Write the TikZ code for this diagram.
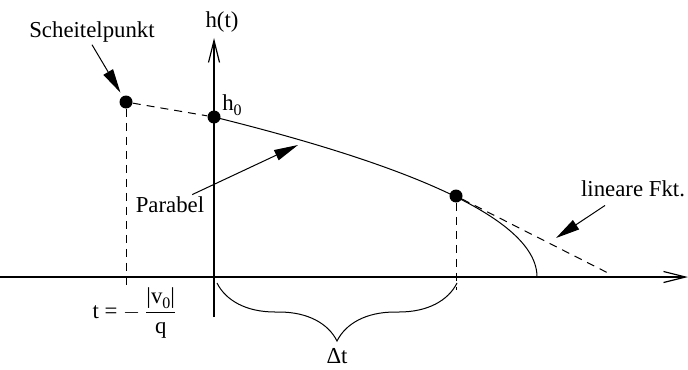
\documentclass[tikz,border=0pt]{standalone}
\usepackage{amsmath}
\usepackage{fontspec}
\setmainfont{Liberation Serif}
\usetikzlibrary{arrows.meta, decorations.pathreplacing, calc}

\begin{document}
\begin{tikzpicture}[
    x=0.5pt, y=-0.5pt,
    font=\fontsize{11.4}{13}\selectfont,
    punkt/.style={circle, fill=black, inner sep=0pt, minimum size=6.5pt},
    achse/.style={line width=0.6pt, -{Straight Barb[length=11pt,width=5.5pt]}},
    hilfslinie/.style={line width=0.5pt, dash pattern=on 4pt off 3pt},
    zeiger/.style={line width=0.5pt, -{Triangle[length=12pt,width=5.5pt]}},
    beschriftung/.style={inner sep=1pt}
]
\useasboundingbox (0,0) rectangle (688,369);

% Achsen
\coordinate (hlinks) at (0,277);
\coordinate (hrechts) at (688,277);
\coordinate (vunten) at (214,317);
\coordinate (voben) at (214,38);
\draw[achse] (hlinks) -- (hrechts);
\draw[achse] (vunten) -- (voben);
\node[beschriftung] (lblH) at (222,22) {h(t)};

% Punkte
\node[punkt] (S) at (126,102) {};
\node[punkt] (H0) at (214,117) {};
\node[punkt] (P) at (456,196) {};
\node[beschriftung] (lblH0) at (232,105) {h\raisebox{-0.45ex}{\footnotesize 0}};

% Parabel
\draw[line width=0.5pt] plot[domain=117:277, samples=80, smooth, variable=\t]
    ({537-0.01262*(277-\t)*(277-\t)}, \t);

% Hilfslinien
\coordinate (sfuss) at (126,286);
\coordinate (pfuss) at (456,290);
\coordinate (lende) at (612,275);
\draw[hilfslinie] (S) -- (H0);
\draw[hilfslinie] (S) -- (sfuss);
\draw[hilfslinie] (P) -- (pfuss);
\draw[hilfslinie] (P) -- (lende);

% Klammer
\coordinate (k1) at (217,283);
\coordinate (k2) at (457,283);
\draw[line width=0.5pt, decorate, decoration={brace, mirror, amplitude=29pt}] (k1) -- (k2);
\node[beschriftung] (dt) at (337,356) {Δt};
\node[beschriftung] (lblT) at (135,313) {t = $-$\,$\dfrac{\text{|v\raisebox{-0.45ex}{\footnotesize 0}|}}{\text{q}}$};

% Beschriftungen mit Pfeilen
\node[beschriftung] (lblS) at (92,32) {Scheitelpunkt};
\node[beschriftung] (lblP) at (170,205) {Parabel};
\node[beschriftung] (lblL) at (633,189) {lineare Fkt.};
\coordinate (pz) at (298,145);
\coordinate (lz) at (556,238);
\draw[zeiger, shorten >=2pt] (lblS.south) -- (S);
\draw[zeiger] (lblP) -- (pz);
\draw[zeiger] ([xshift=-14pt,yshift=-3pt]lblL.south) -- (lz);
\end{tikzpicture}
\end{document}
